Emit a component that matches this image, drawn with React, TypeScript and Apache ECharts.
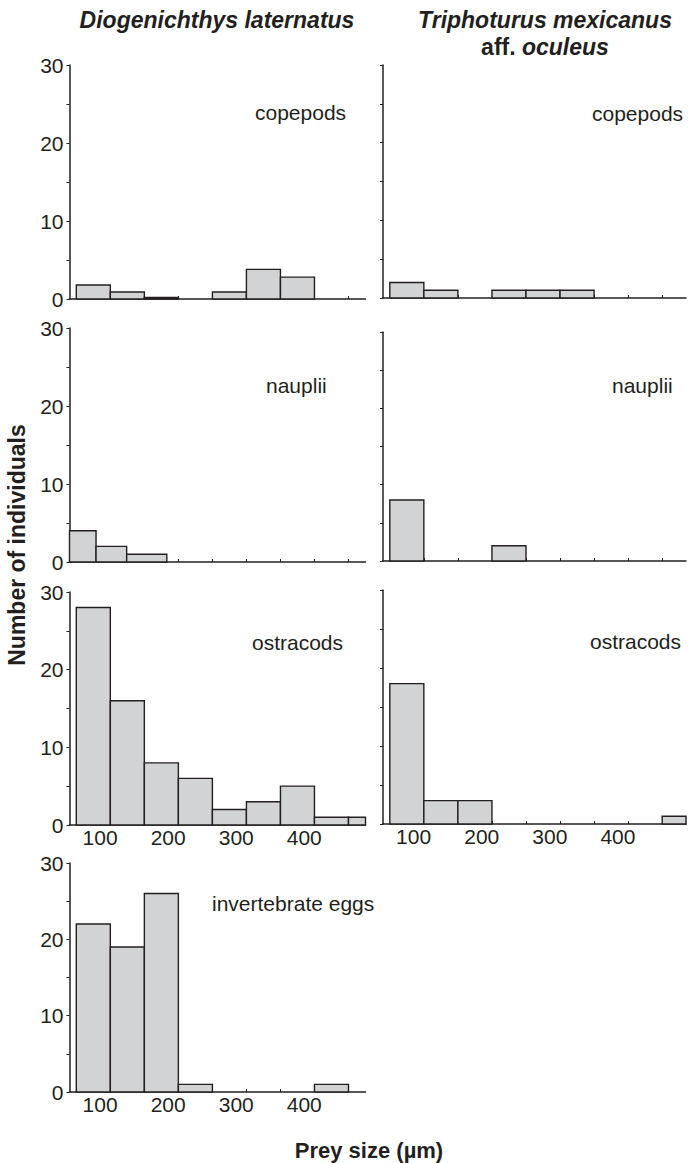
import React, { useEffect, useRef } from "react";
import * as echarts from "echarts";

// ---- data ----
const binEdges = [65, 115, 165, 215, 265, 315, 365, 415, 465, 515];
const naupliiLeftEdges = [55, 94, 139, 198];
const yTickValues = [0, 5, 10, 15, 20, 25, 30];
const yLabelValues = [0, 10, 20, 30];
const xLabelValues = [100, 200, 300, 400];

const dlCopepods = [1.8, 0.9, 0.2, 0, 0.9, 3.8, 2.8, 0, 0];
const dlNauplii = [4, 2, 1];
const dlOstracods = [28, 16, 8, 6, 2, 3, 5, 1, 1];
const dlEggs = [22, 19, 26, 1, 0, 0, 0, 1, 0];
const tmCopepods = [2, 1, 0, 1, 1, 1, 0, 0, 0];
const tmNauplii = [8, 0, 0, 2, 0, 0, 0, 0, 0];
const tmOstracods = [18, 3, 3, 0, 0, 0, 0, 0, 1];

const preyLabels = ["copepods", "nauplii", "ostracods", "invertebrate eggs"];
const speciesLeft = "Diogenichthys laternatus";
const speciesRight1 = "Triphoturus mexicanus";
const speciesRight2a = "aff. ";
const speciesRight2b = "oculeus";
const yTitle = "Number of individuals";
const xTitle = "Prey size (µm)";

// ---- styling / layout ----
const INK = "#231f20";
const FILL = "#d1d3d4";
const FONT = "Liberation Sans";

const COLS = {
  L: { left: 69.5, width: 296, min: 55, max: 490 },
  R: { left: 383, width: 303, min: 55, max: 500 },
};

function toBins(edges: number[], counts: number[]) {
  const out: number[][] = [];
  counts.forEach((c, i) => {
    if (c > 0) out.push([edges[i], edges[i + 1], c]);
  });
  return out;
}

const panels = [
  { col: "L", top: 65, height: 234, bins: toBins(binEdges, dlCopepods), labels: false, yLabels: true, prey: 0, tx: 255, ty: 112 },
  { col: "L", top: 328, height: 234, bins: toBins(naupliiLeftEdges, dlNauplii), labels: false, yLabels: true, prey: 1, tx: 266, ty: 385 },
  { col: "L", top: 592, height: 233, bins: toBins(binEdges, dlOstracods), labels: true, yLabels: true, prey: 2, tx: 252, ty: 642 },
  { col: "L", top: 863, height: 229, bins: toBins(binEdges, dlEggs), labels: true, yLabels: true, prey: 3, tx: 212, ty: 903 },
  { col: "R", top: 65, height: 233, bins: toBins(binEdges, tmCopepods), labels: false, yLabels: false, prey: 0, tx: 592, ty: 113 },
  { col: "R", top: 332, height: 229, bins: toBins(binEdges, tmNauplii), labels: false, yLabels: false, prey: 1, tx: 612, ty: 385 },
  { col: "R", top: 590, height: 234, bins: toBins(binEdges, tmOstracods), labels: true, yLabels: false, prey: 2, tx: 590, ty: 641 },
];

function renderBar(params: any, api: any) {
  const x0 = api.value(0);
  const x1 = api.value(1);
  const c = api.value(2);
  const p0 = api.coord([x0, c]);
  const p1 = api.coord([x1, 0]);
  const cs = params.coordSys;
  const left = Math.max(p0[0], cs.x);
  const right = Math.min(p1[0], cs.x + cs.width);
  return {
    type: "rect",
    shape: { x: left, y: p0[1], width: right - left, height: p1[1] - p0[1] },
    style: { fill: FILL, stroke: INK, lineWidth: 1.4 },
  };
}

export default function App() {
  const ref = useRef<HTMLDivElement>(null);
  useEffect(() => {
    if (!ref.current) return;
    const chart = echarts.init(ref.current, undefined, { renderer: "svg" });
    const grid: any[] = [];
    const xAxis: any[] = [];
    const yAxis: any[] = [];
    const series: any[] = [];
    panels.forEach((p, i) => {
      const c = (COLS as any)[p.col];
      grid.push({ left: c.left, width: c.width, top: p.top, height: p.height });
      xAxis.push({
        type: "value",
        gridIndex: i,
        min: c.min,
        max: c.max,
        axisLine: { show: true, lineStyle: { color: INK, width: 1.5 } },
        axisTick: { show: true, inside: true, length: 3, customValues: binEdges, lineStyle: { color: INK, width: 1 } },
        axisLabel: {
          show: p.labels,
          customValues: xLabelValues,
          color: INK,
          fontFamily: FONT,
          fontSize: 21,
          margin: 2,
        },
        splitLine: { show: false },
      });
      yAxis.push({
        type: "value",
        gridIndex: i,
        min: 0,
        max: 30,
        interval: 5,
        axisLine: { show: true, lineStyle: { color: INK, width: 1.5 } },
        axisTick: { show: true, inside: false, length: 3, customValues: yTickValues, lineStyle: { color: INK, width: 1 } },
        axisLabel: {
          show: p.yLabels,
          customValues: yLabelValues,
          color: INK,
          fontFamily: FONT,
          fontSize: 21,
          margin: 6,
        },
        splitLine: { show: false },
      });
      series.push({
        type: "custom",
        xAxisIndex: i,
        yAxisIndex: i,
        renderItem: renderBar,
        encode: { x: [0, 1], y: 2 },
        data: p.bins,
        silent: true,
      });
    });

    const graphic: any[] = panels.map((p) => ({
      type: "text",
      x: p.tx,
      y: p.ty,
      style: {
        text: preyLabels[p.prey],
        fill: INK,
        fontFamily: FONT,
        fontSize: 21,
        textAlign: "left",
        textVerticalAlign: "middle",
      },
    }));
    graphic.push(
      {
        type: "text",
        x: 217,
        y: 20,
        style: {
          text: speciesLeft,
          fill: INK,
          fontFamily: FONT,
          fontSize: 23,
          fontWeight: "bold",
          fontStyle: "italic",
          textAlign: "center",
          textVerticalAlign: "middle",
        },
      },
      {
        type: "text",
        x: 545,
        y: 20,
        style: {
          text: speciesRight1,
          fill: INK,
          fontFamily: FONT,
          fontSize: 23,
          fontWeight: "bold",
          fontStyle: "italic",
          textAlign: "center",
          textVerticalAlign: "middle",
        },
      },
      {
        type: "text",
        x: 545,
        y: 47,
        style: {
          text: "{a|" + speciesRight2a + "}{b|" + speciesRight2b + "}",
          textAlign: "center",
          textVerticalAlign: "middle",
          rich: {
            a: { fill: INK, fontFamily: FONT, fontSize: 23, fontWeight: "bold" },
            b: { fill: INK, fontFamily: FONT, fontSize: 23, fontWeight: "bold", fontStyle: "italic" },
          },
        },
      },
      {
        type: "text",
        x: 16.5,
        y: 545,
        rotation: Math.PI / 2,
        style: {
          text: yTitle,
          fill: INK,
          fontFamily: FONT,
          fontSize: 23,
          fontWeight: "bold",
          textAlign: "center",
          textVerticalAlign: "middle",
        },
      },
      {
        type: "text",
        x: 369,
        y: 1150,
        style: {
          text: xTitle,
          fill: INK,
          fontFamily: FONT,
          fontSize: 22,
          fontWeight: "bold",
          textAlign: "center",
          textVerticalAlign: "middle",
        },
      }
    );

    chart.setOption({
      animation: false,
      backgroundColor: "#ffffff",
      grid,
      xAxis,
      yAxis,
      series,
      graphic,
    });
    return () => chart.dispose();
  }, []);
  return (
    <div
      ref={ref}
      style={{ position: "fixed", left: 0, top: 0, width: 689, height: 1163 }}
    />
  );
}
